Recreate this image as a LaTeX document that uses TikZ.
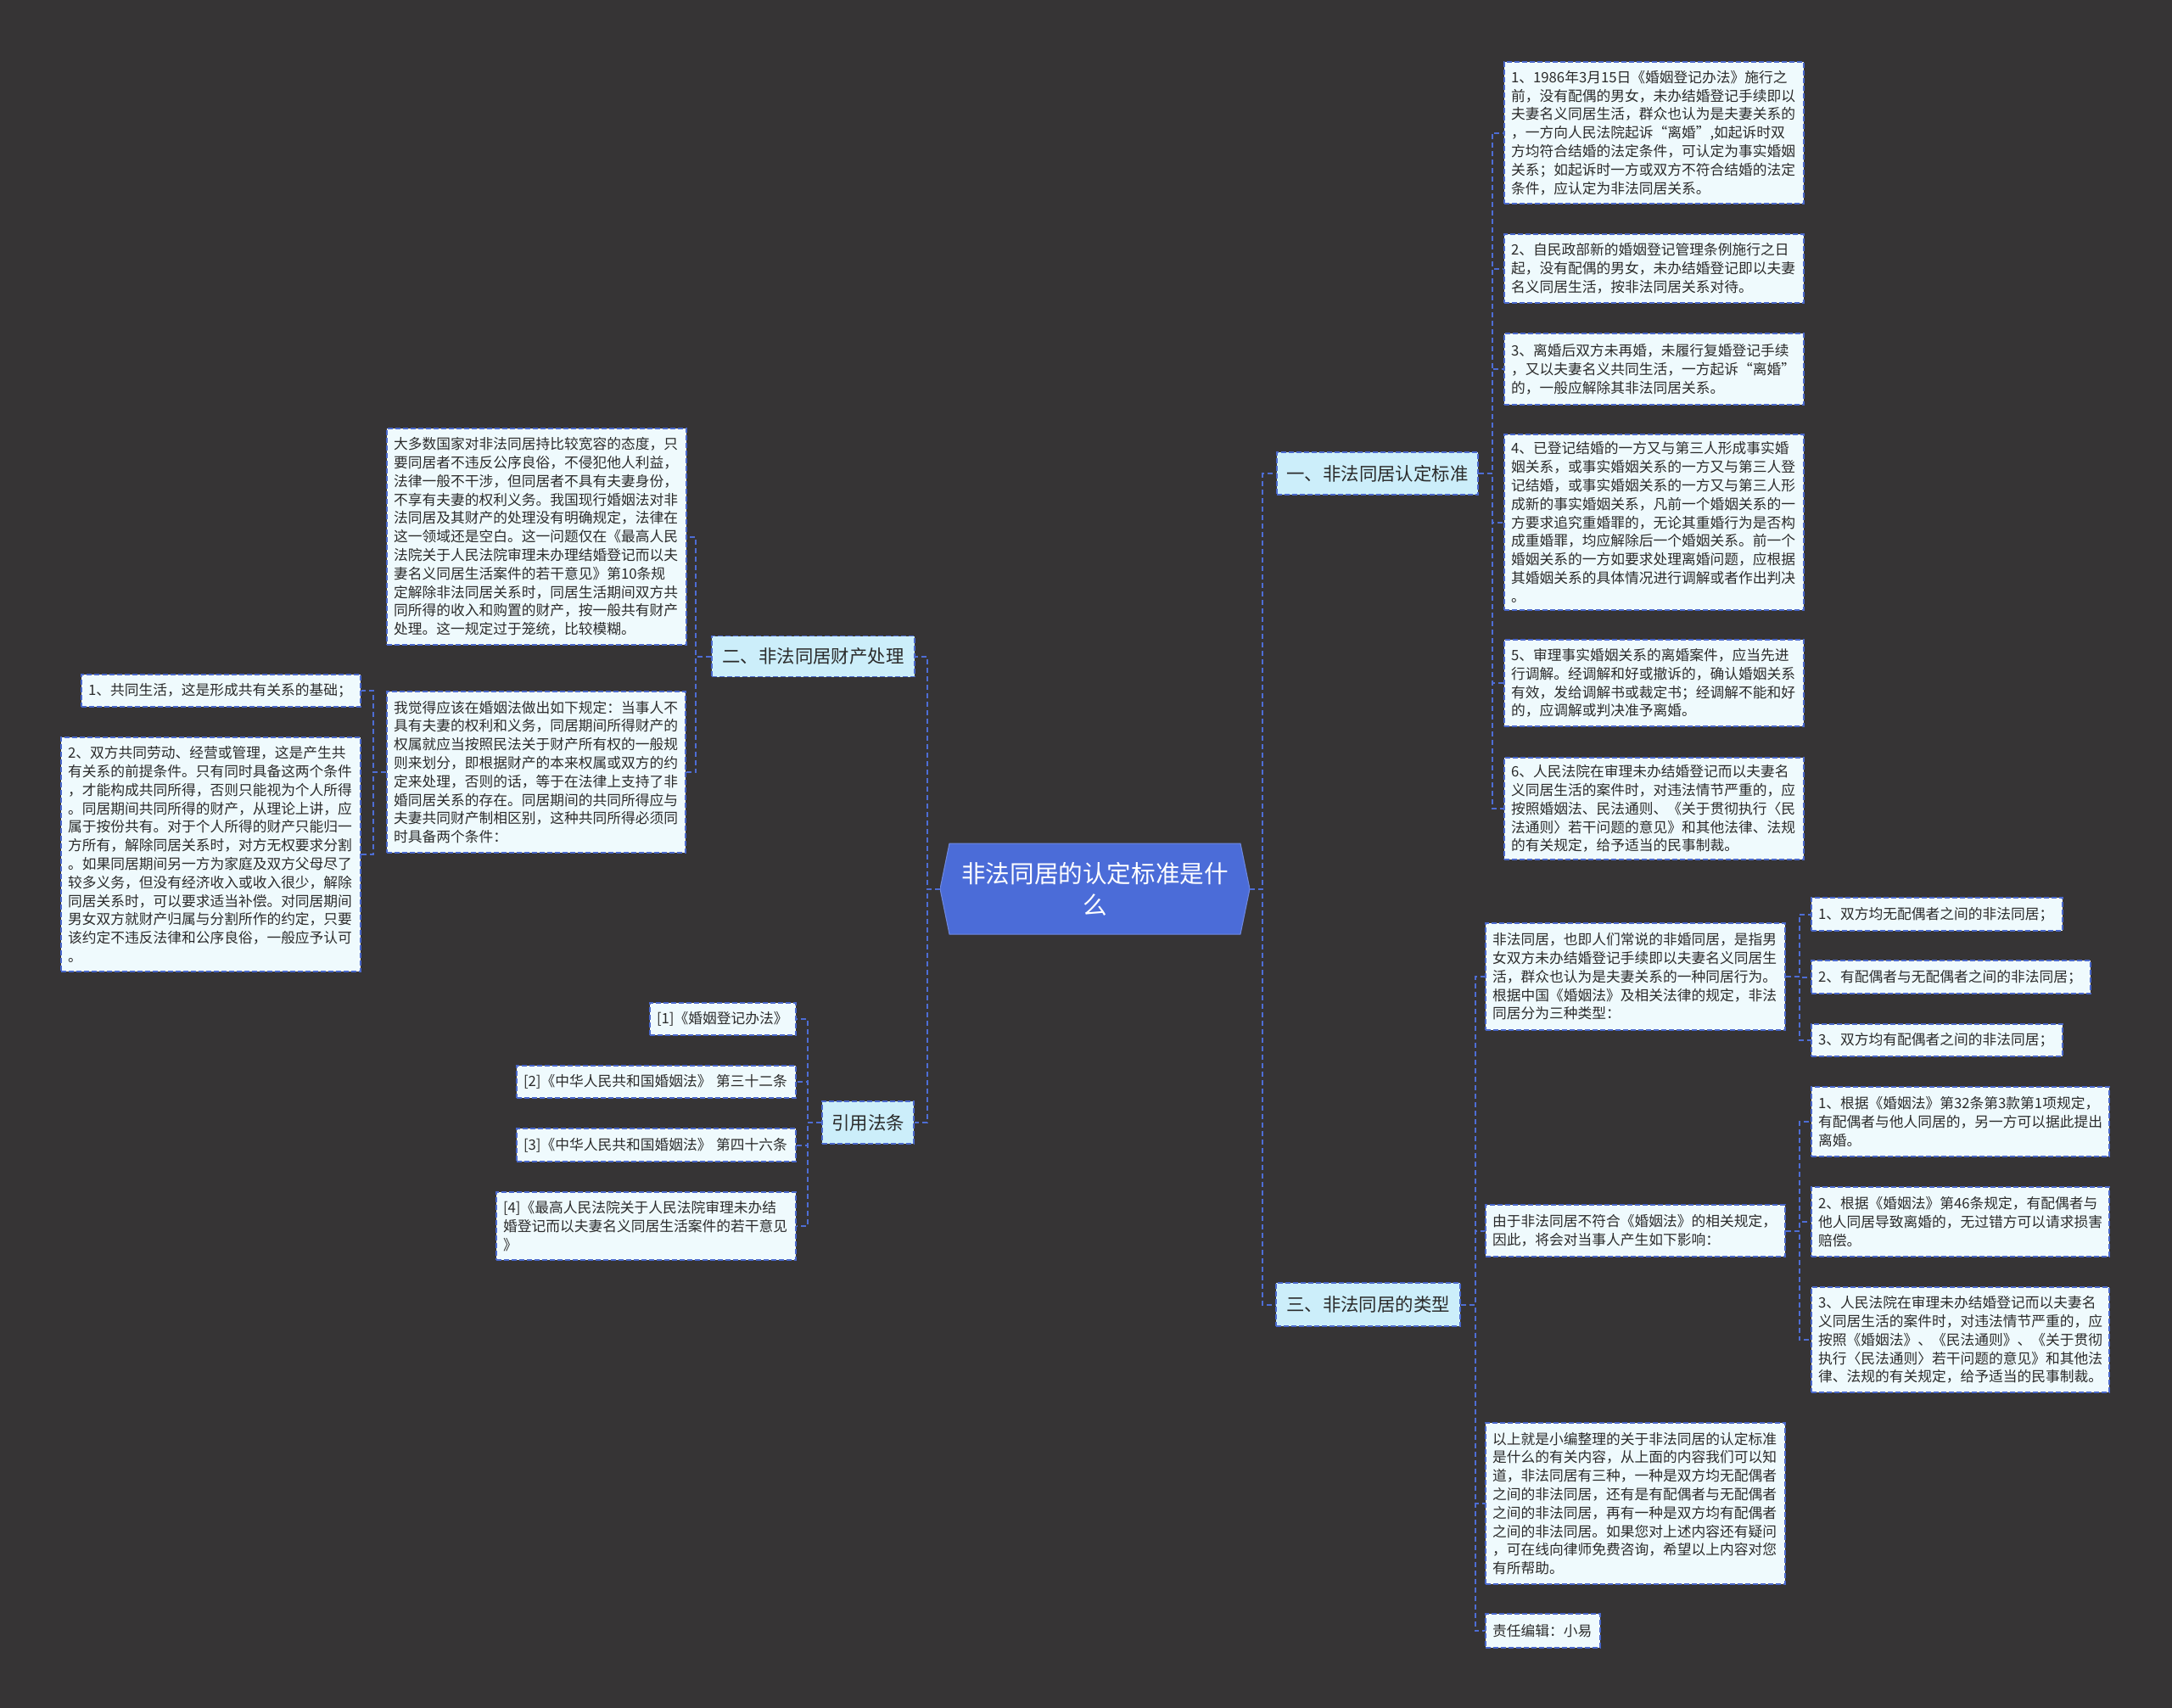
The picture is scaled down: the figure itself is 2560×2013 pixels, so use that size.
\documentclass[tikz,border=0pt]{standalone}
\usepackage{fontspec}
\setmainfont{Noto Sans CJK SC}
\usetikzlibrary{calc}
\definecolor{bgc}{HTML}{363435}
\definecolor{leaffill}{HTML}{EFFAFD}
\definecolor{brfill}{HTML}{CCEEFA}
\definecolor{bord}{HTML}{4A68CC}
\definecolor{connc}{HTML}{4E6DD5}
\definecolor{txt}{HTML}{2B2B2B}
\definecolor{ctrblue}{HTML}{4B6CD8}
\newcommand\leaffont{\fontsize{16.75pt}{21.8pt}\selectfont}
\newcommand\brfont{\fontsize{21.4pt}{26pt}\selectfont}
\newcommand\ctrfont{\fontsize{28.6pt}{36.7pt}\selectfont}
\tikzset{
  leaf/.style={draw=bord, fill=leaffill, dash pattern=on 6pt off 3pt, line width=1.3pt,
    inner xsep=8pt, inner ysep=0pt, align=left, font=\leaffont, text=txt},
  branch/.style={draw=bord, fill=brfill, dash pattern=on 6pt off 3pt, line width=1.3pt,
    inner xsep=4pt, inner ysep=0pt, align=center, font=\brfont, text=txt},
  conn/.style={draw=connc, line width=2pt, dash pattern=on 6pt off 4pt},
}
\begin{document}
\begin{tikzpicture}[x=1pt,y=-1pt]
\useasboundingbox (0,0) rectangle (2560,2013);
\fill[bgc] (0,0) rectangle (2560,2013);

% centre
\node[minimum width=365pt, minimum height=109pt, inner sep=0pt, align=center,
  font=\ctrfont, text=white,
  path picture={\fill[ctrblue, draw=ctrblue!80!white, line width=1pt]
    (path picture bounding box.west)
    -- ($(path picture bounding box.north west)+(11,1)$)
    -- ($(path picture bounding box.north east)+(-11,1)$)
    -- (path picture bounding box.east)
    -- ($(path picture bounding box.south east)+(-11,-1)$)
    -- ($(path picture bounding box.south west)+(11,-1)$) -- cycle;}]
  (ctr) at (1290.5,1047.5) {非法同居的认定标准是什\\么};

% branches
\node[branch, minimum width=237pt, minimum height=50pt] (b1) at (1623.5,558) {一、非法同居认定标准};
\node[branch, minimum width=239pt, minimum height=48pt] (b2) at (958.5,773.5) {二、非法同居财产处理};
\node[branch, minimum width=217pt, minimum height=51pt] (b3) at (1612.5,1537.5) {三、非法同居的类型};
\node[branch, minimum width=108pt, minimum height=50pt] (b4) at (1023,1323) {引用法条};

% branch 1 leaves
\node[leaf, minimum width=353pt, text width=337pt, minimum height=167pt] (c1) at (1949.5,156.5) {1、1986年3月15日《婚姻登记办法》施行之\\前，没有配偶的男女，未办结婚登记手续即以\\夫妻名义同居生活，群众也认为是夫妻关系的\\，一方向人民法院起诉“离婚”,如起诉时双\\方均符合结婚的法定条件，可认定为事实婚姻\\关系；如起诉时一方或双方不符合结婚的法定\\条件，应认定为非法同居关系。};
\node[leaf, minimum width=353pt, text width=337pt, minimum height=81pt] (c2) at (1949.5,316.5) {2、自民政部新的婚姻登记管理条例施行之日\\起，没有配偶的男女，未办结婚登记即以夫妻\\名义同居生活，按非法同居关系对待。};
\node[leaf, minimum width=353pt, text width=337pt, minimum height=84pt] (c3) at (1949.5,435) {3、离婚后双方未再婚，未履行复婚登记手续\\，又以夫妻名义共同生活，一方起诉“离婚”\\的，一般应解除其非法同居关系。};
\node[leaf, minimum width=353pt, text width=337pt, minimum height=207pt] (c4) at (1949.5,615.5) {4、已登记结婚的一方又与第三人形成事实婚\\姻关系，或事实婚姻关系的一方又与第三人登\\记结婚，或事实婚姻关系的一方又与第三人形\\成新的事实婚姻关系，凡前一个婚姻关系的一\\方要求追究重婚罪的，无论其重婚行为是否构\\成重婚罪，均应解除后一个婚姻关系。前一个\\婚姻关系的一方如要求处理离婚问题，应根据\\其婚姻关系的具体情况进行调解或者作出判决\\。};
\node[leaf, minimum width=353pt, text width=337pt, minimum height=102pt] (c5) at (1949.5,805) {5、审理事实婚姻关系的离婚案件，应当先进\\行调解。经调解和好或撤诉的，确认婚姻关系\\有效，发给调解书或裁定书；经调解不能和好\\的，应调解或判决准予离婚。};
\node[leaf, minimum width=353pt, text width=337pt, minimum height=120pt] (c6) at (1949.5,953) {6、人民法院在审理未办结婚登记而以夫妻名\\义同居生活的案件时，对违法情节严重的，应\\按照婚姻法、民法通则、《关于贯彻执行〈民\\法通则〉若干问题的意见》和其他法律、法规\\的有关规定，给予适当的民事制裁。};

% branch 2 leaves
\node[leaf, minimum width=353pt, text width=337pt, minimum height=255pt] (l1) at (632.5,632.5) {大多数国家对非法同居持比较宽容的态度，只\\要同居者不违反公序良俗，不侵犯他人利益，\\法律一般不干涉，但同居者不具有夫妻身份，\\不享有夫妻的权利义务。我国现行婚姻法对非\\法同居及其财产的处理没有明确规定，法律在\\这一领域还是空白。这一问题仅在《最高人民\\法院关于人民法院审理未办理结婚登记而以夫\\妻名义同居生活案件的若干意见》第10条规\\定解除非法同居关系时，同居生活期间双方共\\同所得的收入和购置的财产，按一般共有财产\\处理。这一规定过于笼统，比较模糊。};
\node[leaf, minimum width=352pt, text width=336pt, minimum height=190pt] (l2) at (632,910) {我觉得应该在婚姻法做出如下规定：当事人不\\具有夫妻的权利和义务，同居期间所得财产的\\权属就应当按照民法关于财产所有权的一般规\\则来划分，即根据财产的本来权属或双方的约\\定来处理，否则的话，等于在法律上支持了非\\婚同居关系的存在。同居期间的共同所得应与\\夫妻共同财产制相区别，这种共同所得必须同\\时具备两个条件：};
\node[leaf, minimum width=329pt, text width=313pt, minimum height=38pt] (l2a) at (260.5,814) {1、共同生活，这是形成共有关系的基础；};
\node[leaf, minimum width=353pt, text width=337pt, minimum height=276pt] (l2b) at (248.5,1007) {2、双方共同劳动、经营或管理，这是产生共\\有关系的前提条件。只有同时具备这两个条件\\，才能构成共同所得，否则只能视为个人所得\\。同居期间共同所得的财产，从理论上讲，应\\属于按份共有。对于个人所得的财产只能归一\\方所有，解除同居关系时，对方无权要求分割\\。如果同居期间另一方为家庭及双方父母尽了\\较多义务，但没有经济收入或收入很少，解除\\同居关系时，可以要求适当补偿。对同居期间\\男女双方就财产归属与分割所作的约定，只要\\该约定不违反法律和公序良俗，一般应予认可\\。};

% references
\node[leaf, minimum width=172pt, text width=156pt, minimum height=38pt] (r1) at (852,1201) {[1]《婚姻登记办法》};
\node[leaf, minimum width=329pt, text width=313pt, minimum height=38pt] (r2) at (773.5,1275) {[2]《中华人民共和国婚姻法》 第三十二条};
\node[leaf, minimum width=329pt, text width=313pt, minimum height=39pt] (r3) at (773.5,1349.5) {[3]《中华人民共和国婚姻法》 第四十六条};
\node[leaf, minimum width=353pt, text width=337pt, minimum height=80pt] (r4) at (761.5,1445) {[4]《最高人民法院关于人民法院审理未办结\\婚登记而以夫妻名义同居生活案件的若干意见\\》};

% branch 3 leaves
\node[leaf, minimum width=353pt, text width=337pt, minimum height=126pt] (t1) at (1927.5,1151) {非法同居，也即人们常说的非婚同居，是指男\\女双方未办结婚登记手续即以夫妻名义同居生\\活，群众也认为是夫妻关系的一种同居行为。\\根据中国《婚姻法》及相关法律的规定，非法\\同居分为三种类型：};
\node[leaf, minimum width=296pt, text width=280pt, minimum height=39pt] (t1a) at (2283,1077.5) {1、双方均无配偶者之间的非法同居；};
\node[leaf, minimum width=329pt, text width=313pt, minimum height=39pt] (t1b) at (2299.5,1151.5) {2、有配偶者与无配偶者之间的非法同居；};
\node[leaf, minimum width=296pt, text width=280pt, minimum height=38pt] (t1c) at (2283,1226) {3、双方均有配偶者之间的非法同居；};
\node[leaf, minimum width=353pt, text width=337pt, minimum height=61pt] (t2) at (1927.5,1450.5) {由于非法同居不符合《婚姻法》的相关规定，\\因此，将会对当事人产生如下影响：};
\node[leaf, minimum width=351pt, text width=335pt, minimum height=82pt] (t2a) at (2310.5,1322) {1、根据《婚姻法》第32条第3款第1项规定，\\有配偶者与他人同居的，另一方可以据此提出\\离婚。};
\node[leaf, minimum width=351pt, text width=335pt, minimum height=82pt] (t2b) at (2310.5,1440) {2、根据《婚姻法》第46条规定，有配偶者与\\他人同居导致离婚的，无过错方可以请求损害\\赔偿。};
\node[leaf, minimum width=351pt, text width=335pt, minimum height=124pt] (t2c) at (2310.5,1579) {3、人民法院在审理未办结婚登记而以夫妻名\\义同居生活的案件时，对违法情节严重的，应\\按照《婚姻法》、《民法通则》、《关于贯彻\\执行〈民法通则〉若干问题的意见》和其他法\\律、法规的有关规定，给予适当的民事制裁。};
\node[leaf, minimum width=353pt, text width=337pt, minimum height=190pt] (t3) at (1927.5,1772) {以上就是小编整理的关于非法同居的认定标准\\是什么的有关内容，从上面的内容我们可以知\\道，非法同居有三种，一种是双方均无配偶者\\之间的非法同居，还有是有配偶者与无配偶者\\之间的非法同居，再有一种是双方均有配偶者\\之间的非法同居。如果您对上述内容还有疑问\\，可在线向律师免费咨询，希望以上内容对您\\有所帮助。};
\node[leaf, minimum width=135pt, text width=119pt, minimum height=40pt] (t4) at (1818.5,1922) {责任编辑：小易};

% connectors
\foreach \n in {b1,b3} \draw[conn] (ctr.east) -- ++(15,0) |- (\n.west);
\foreach \n in {b2,b4} \draw[conn] (ctr.west) -- ++(-15,0) |- (\n.east);
\foreach \n in {c1,c2,c3,c4,c5,c6} \draw[conn] (b1.east) -- ++(16,0) |- (\n.west);
\foreach \n in {l1,l2} \draw[conn] (b2.west) -- ++(-18,0) |- (\n.east);
\foreach \n in {l2a,l2b} \draw[conn] (l2.west) -- ++(-15,0) |- (\n.east);
\foreach \n in {r1,r2,r3,r4} \draw[conn] (b4.west) -- ++(-16,0) |- (\n.east);
\foreach \n in {t1,t2,t3,t4} \draw[conn] (b3.east) -- ++(17,0) |- (\n.west);
\foreach \n in {t1a,t1b,t1c} \draw[conn] (t1.east) -- ++(16,0) |- (\n.west);
\foreach \n in {t2a,t2b,t2c} \draw[conn] (t2.east) -- ++(16,0) |- (\n.west);
\end{tikzpicture}
\end{document}
